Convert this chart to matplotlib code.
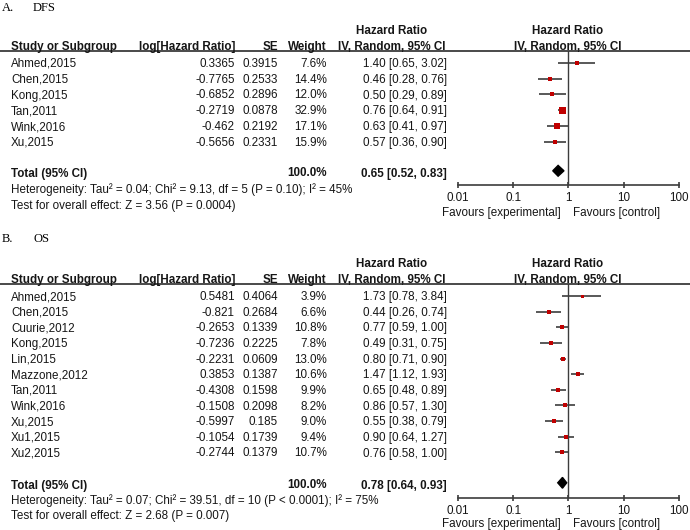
import matplotlib
matplotlib.use('Agg')
import matplotlib.pyplot as plt
import numpy as np
from matplotlib.patches import Polygon

# ---- A. DFS ----
dfs_studies = ['Ahmed,2015', 'Chen,2015', 'Kong,2015', 'Tan,2011', 'Wink,2016', 'Xu,2015']
dfs_loghr = [0.3365, -0.7765, -0.6852, -0.2719, -0.462, -0.5656]
dfs_se = [0.3915, 0.2533, 0.2896, 0.0878, 0.2192, 0.2331]
dfs_weight = [7.6, 14.4, 12.0, 32.9, 17.1, 15.9]
dfs_hr = [1.40, 0.46, 0.50, 0.76, 0.63, 0.57]
dfs_lo = [0.65, 0.28, 0.29, 0.64, 0.41, 0.36]
dfs_hi = [3.02, 0.76, 0.89, 0.91, 0.97, 0.90]
dfs_total = [0.65, 0.52, 0.83]
dfs_het = 'Heterogeneity: Tau² = 0.04; Chi² = 9.13, df = 5 (P = 0.10); I² = 45%'
dfs_test = 'Test for overall effect: Z = 3.56 (P = 0.0004)'

# ---- B. OS ----
os_studies = ['Ahmed,2015', 'Chen,2015', 'Cuurie,2012', 'Kong,2015', 'Lin,2015', 'Mazzone,2012',
              'Tan,2011', 'Wink,2016', 'Xu,2015', 'Xu1,2015', 'Xu2,2015']
os_loghr = [0.5481, -0.821, -0.2653, -0.7236, -0.2231, 0.3853, -0.4308, -0.1508, -0.5997, -0.1054, -0.2744]
os_se = [0.4064, 0.2684, 0.1339, 0.2225, 0.0609, 0.1387, 0.1598, 0.2098, 0.185, 0.1739, 0.1379]
os_weight = [3.9, 6.6, 10.8, 7.8, 13.0, 10.6, 9.9, 8.2, 9.0, 9.4, 10.7]
os_hr = [1.73, 0.44, 0.77, 0.49, 0.80, 1.47, 0.65, 0.86, 0.55, 0.90, 0.76]
os_lo = [0.78, 0.26, 0.59, 0.31, 0.71, 1.12, 0.48, 0.57, 0.38, 0.64, 0.58]
os_hi = [3.84, 0.74, 1.00, 0.75, 0.90, 1.93, 0.89, 1.30, 0.79, 1.27, 1.00]
os_total = [0.78, 0.64, 0.93]
os_het = 'Heterogeneity: Tau² = 0.07; Chi² = 39.51, df = 10 (P < 0.0001); I² = 75%'
os_test = 'Test for overall effect: Z = 2.68 (P = 0.007)'

W, H = 690, 530
SANS = 'Liberation Sans'
FS = 8.4
RED = '#c00000'
GREY = '#3c3c3c'
INK = '#161616'
BASE = 4.2  # half cap height in px, so rows sit on a common baseline

fig = plt.figure(figsize=(W / 100, H / 100), dpi=100)
bg = fig.add_axes([0, 0, 1, 1])
bg.set_xlim(0, W)
bg.set_ylim(H, 0)
bg.axis('off')

X_STUDY, X_LOG, X_SE, X_W, X_CI, X_HEAD = 11, 235, 278, 327, 447, 392
X0, X1 = 457.9, 679.0  # pixel positions of 0.01 and 100


def txt(x, y, s, ha='left', bold=False):
    bg.text(x, y + BASE, s, ha=ha, va='baseline', fontsize=FS, family=SANS,
            fontweight='bold' if bold else 'normal', color=INK)


def draw_panel(letter, name, studies, loghr, se, weight, hr, lo, hi, total, het, test, lay):
    bg.text(2, lay['title'] + 4.3, letter, ha='left', va='baseline', fontsize=9, family='Liberation Serif')
    bg.text(33, lay['title'] + 4.3, name, ha='left', va='baseline', fontsize=9, family='Liberation Serif')

    # headers
    txt(X_HEAD, lay['hr'], 'Hazard Ratio', ha='center', bold=True)
    txt(568, lay['hr'], 'Hazard Ratio', ha='center', bold=True)
    txt(X_STUDY, lay['head'], 'Study or Subgroup', bold=True)
    txt(X_LOG, lay['head'], 'log[Hazard Ratio]', ha='right', bold=True)
    txt(X_SE, lay['head'], 'SE', ha='right', bold=True)
    txt(X_W, lay['head'], 'Weight', ha='right', bold=True)
    txt(X_HEAD, lay['head'], 'IV, Random, 95% CI', ha='center', bold=True)
    txt(568, lay['head'], 'IV, Random, 95% CI', ha='center', bold=True)
    bg.plot([0, W], [lay['line'], lay['line']], color=GREY, lw=1.3)

    ys = [lay['row0'] + i * lay['dy'] for i in range(len(studies))]
    for y, s, l, e, w, h, a, b in zip(ys, studies, loghr, se, weight, hr, lo, hi):
        txt(X_STUDY, y, s)
        txt(X_LOG, y, str(l), ha='right')
        txt(X_SE, y, str(e), ha='right')
        txt(X_W, y, f'{w:.1f}%', ha='right')
        txt(X_CI, y, f'{h:.2f} [{a:.2f}, {b:.2f}]', ha='right')

    txt(X_STUDY, lay['total'], 'Total (95% CI)', bold=True)
    txt(X_W, lay['total'], '100.0%', ha='right', bold=True)
    txt(X_CI, lay['total'], f'{total[0]:.2f} [{total[1]:.2f}, {total[2]:.2f}]', ha='right', bold=True)
    txt(X_STUDY, lay['het'], het)
    txt(X_STUDY, lay['test'], test)

    # forest axes
    ax = fig.add_axes([X0 / W, 1 - lay['axis'] / H, (X1 - X0) / W, (lay['axis'] - lay['line']) / H])
    ax.set_xscale('log')
    ax.set_xlim(0.01, 100)
    ax.set_ylim(lay['axis'], lay['line'])
    ax.patch.set_visible(False)
    for sp in ['top', 'left', 'right']:
        ax.spines[sp].set_visible(False)
    ax.spines['bottom'].set_color(GREY)
    ax.spines['bottom'].set_linewidth(1.2)
    ax.set_yticks([])
    ax.set_xticks([0.01, 0.1, 1, 10, 100])
    ax.set_xticklabels(['0.01', '0.1', '1', '10', '100'], family=SANS, fontsize=FS, color=INK)
    ax.minorticks_off()
    ax.tick_params(axis='x', direction='inout', length=5, width=1.2, color=GREY, pad=3)
    ax.axvline(1, color=GREY, lw=1.0)

    wmax = max(dfs_weight)
    for y, w, h, a, b in zip(ys, weight, hr, lo, hi):
        ax.plot([a, b], [y, y], color=GREY, lw=1.2, solid_capstyle='butt')
        side = max(3.0, 7.0 * np.sqrt(w / wmax)) * 0.72
        ax.scatter([h], [y], marker='s', s=side ** 2, color=RED, linewidths=0, zorder=3)

    dh = 5.4
    ty = lay['total'] - 1.5
    ax.add_patch(Polygon([[total[1], ty], [total[0], ty - dh], [total[2], ty], [total[0], ty + dh]],
                         closed=True, color='black', zorder=3))

    txt(561, lay['fav'], 'Favours [experimental]', ha='right')
    txt(573, lay['fav'], 'Favours [control]')


lay_a = dict(title=7, hr=30, head=46, line=51, row0=62.7, dy=15.8, total=172.3,
             het=188.5, test=204.5, axis=184.5, fav=211.7)
lay_b = dict(title=238, hr=263, head=279, line=283.5, row0=296, dy=15.63, total=484.3,
             het=500, test=515, axis=497.5, fav=523)

draw_panel('A.', 'DFS', dfs_studies, dfs_loghr, dfs_se, dfs_weight, dfs_hr, dfs_lo, dfs_hi,
           dfs_total, dfs_het, dfs_test, lay_a)
draw_panel('B.', 'OS', os_studies, os_loghr, os_se, os_weight, os_hr, os_lo, os_hi,
           os_total, os_het, os_test, lay_b)

fig.savefig('out.png', dpi=100)
